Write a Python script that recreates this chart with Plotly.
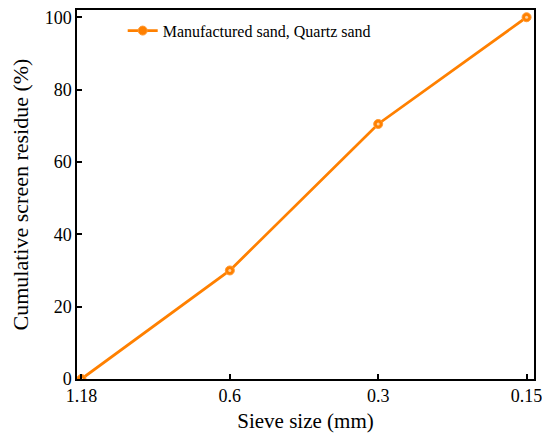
import plotly.graph_objects as go

sieve_sizes = ["1.18", "0.6", "0.3", "0.15"]
residue = [0, 30, 70.5, 100]
series_name = "Manufactured sand, Quartz sand"

orange = "#FF8000"
serif = "Liberation Serif, Times New Roman, serif"

fig = go.Figure()
fig.add_trace(go.Scatter(
    x=sieve_sizes, y=residue, name=series_name,
    mode="lines+markers",
    line=dict(color=orange, width=2.8),
    marker=dict(size=9, color=orange, line=dict(color="#FF9A33", width=1)),
    cliponaxis=True,
))
# lighter centre of each marker
fig.add_trace(go.Scatter(
    x=sieve_sizes, y=residue, mode="markers", showlegend=False,
    marker=dict(size=3, color="#FFD2A0"), hoverinfo="skip", cliponaxis=True,
))

axis_common = dict(
    showline=True, linecolor="black", linewidth=1.5, mirror=True,
    ticks="inside", ticklen=5, tickwidth=1.5, tickcolor="black",
    showgrid=False, zeroline=False, automargin=False,
    ticklabeloverflow="allow",
    tickfont=dict(family=serif, size=18, color="black"),
)

fig.update_xaxes(
    type="category", range=[-0.03, 3.05],
    title=dict(text="Sieve size (mm)", font=dict(family=serif, size=21, color="black"), standoff=8),
    **axis_common,
)
fig.update_yaxes(
    range=[0, 102], tickvals=[0, 20, 40, 60, 80, 100],
    title=dict(text="Cumulative screen residue (%)", font=dict(family=serif, size=22, color="black"), standoff=14),
    **axis_common,
)

# the page body has an 8px margin, so the figure is sized to fit the window
fig.update_layout(
    width=542, height=433,
    margin=dict(l=69, r=16, t=2, b=62),
    paper_bgcolor="white", plot_bgcolor="white",
    showlegend=True,
    legend=dict(x=0.1, y=0.99, xanchor="left", yanchor="top",
                bgcolor="rgba(0,0,0,0)",
                font=dict(family=serif, size=16, color="black")),
)

fig.write_html("out.html")
